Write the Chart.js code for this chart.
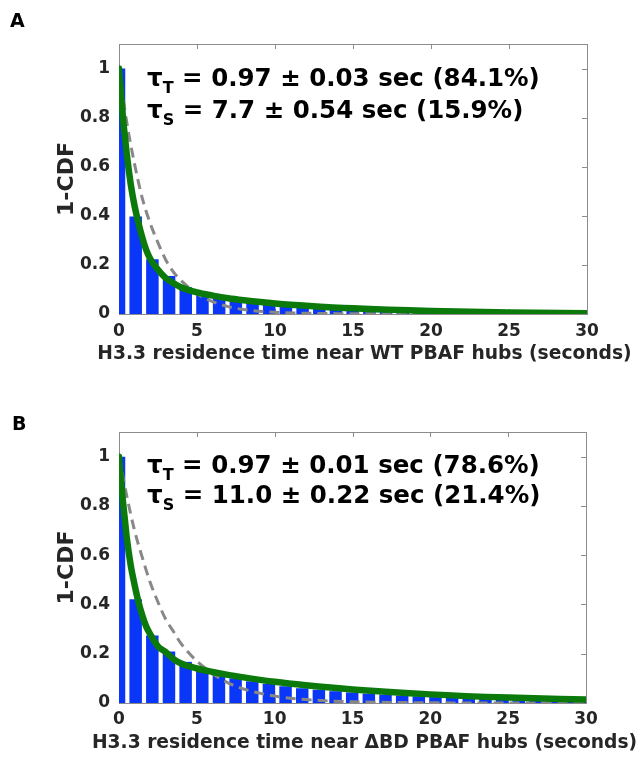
<!DOCTYPE html>
<html>
<head>
<meta charset="utf-8">
<script src="https://cdn.jsdelivr.net/npm/chart.js@4.4.1/dist/chart.umd.min.js"></script>
<style>
  html, body { margin: 0; padding: 0; background: #fff; }
  #wrap { position: relative; width: 639px; height: 760px; overflow: hidden; }
  .panel { position: absolute; left: 0; width: 639px; height: 380px; }
  .tag { position: absolute; font: bold 19px/19px "DejaVu Sans"; color: #000; }
  .note { position: absolute; left: 147px; font: bold 24.5px/24.5px "DejaVu Sans"; color: #000; white-space: nowrap; }
  .note span { font-size: 16px; position: relative; top: 7px; }
  .xtitle { position: absolute; left: 0; width: 729px; text-align: center; font: bold 18.7px/18.7px "DejaVu Sans"; color: #262626; white-space: nowrap; }
</style>
</head>
<body>
<div id="wrap">
  <div class="panel" style="top:0"><canvas id="chartA" width="639" height="380"></canvas></div>
  <div class="panel" style="top:380px"><canvas id="chartB" width="639" height="380"></canvas></div>

  <div class="tag" style="left:10px;top:11px">A</div>
  <div class="note" style="top:66px">τ<span>T</span> = 0.97 ± 0.03 sec (84.1%)</div>
  <div class="note" style="top:98px">τ<span>S</span> = 7.7 ± 0.54 sec (15.9%)</div>
  <div class="xtitle" style="top:344px">H3.3 residence time near WT PBAF hubs (seconds)</div>

  <div class="tag" style="left:12px;top:414px">B</div>
  <div class="note" style="top:453px">τ<span>T</span> = 0.97 ± 0.01 sec (78.6%)</div>
  <div class="note" style="top:483px">τ<span>S</span> = 11.0 ± 0.22 sec (21.4%)</div>
  <div class="xtitle" style="top:733px">H3.3 residence time near ΔBD PBAF hubs (seconds)</div>
</div>

<script>
// histogram bins (seconds) and 1-CDF heights
const binTimes = [0, 1.07, 2.14, 3.21, 4.28, 5.35, 6.42, 7.49, 8.56, 9.63, 10.70, 11.77, 12.84, 13.91, 14.98,
  16.05, 17.12, 18.19, 19.26, 20.33, 21.40, 22.47, 23.54, 24.61, 25.68, 26.75, 27.82, 28.89, 29.96];
const barsA = [1.0, 0.397, 0.223, 0.155, 0.109, 0.080, 0.066, 0.056, 0.048, 0.041, 0.036, 0.031, 0.027, 0.023, 0.020,
  0.017, 0.014, 0.012, 0.010, 0.009, 0.008, 0.007, 0.006, 0.005, 0.004, 0.004, 0.003, 0.003, 0.002];
const barsB = [1.0, 0.421, 0.274, 0.209, 0.167, 0.134, 0.114, 0.100, 0.088, 0.078, 0.068, 0.060, 0.054, 0.048, 0.043,
  0.038, 0.034, 0.030, 0.027, 0.024, 0.021, 0.019, 0.017, 0.015, 0.013, 0.012, 0.011, 0.010, 0.009];

// two-component fit (green)
const fitTimes = [0, 0.1, 0.25, 0.4, 0.5, 0.75, 1, 1.25, 1.5, 1.75, 2, 2.5, 3, 3.5, 4, 5, 6, 7, 8, 10, 12, 15, 20, 25, 30];
const fitA = [1.00, 0.92, 0.80, 0.71, 0.65, 0.53, 0.44, 0.37, 0.31, 0.26, 0.225, 0.18, 0.146, 0.125, 0.108,
  0.088, 0.075, 0.064, 0.056, 0.043, 0.034, 0.023, 0.012, 0.006, 0.003];
const fitB = [1.00, 0.92, 0.82, 0.73, 0.67, 0.56, 0.48, 0.41, 0.355, 0.31, 0.28, 0.23, 0.207, 0.178, 0.16,
  0.14, 0.126, 0.114, 0.104, 0.086, 0.072, 0.055, 0.035, 0.022, 0.014];

// one-component fit (grey dashed)
const expTimes = [0, 0.5, 1, 1.5, 2, 2.5, 3, 3.5, 4, 5, 6, 7, 8, 10, 12, 15, 20, 25, 30];
const expA = [1.00, 0.78, 0.61, 0.47, 0.37, 0.29, 0.22, 0.17, 0.135, 0.082, 0.05, 0.03, 0.018, 0.007, 0.003, 0.001, 0, 0, 0];
const expB = [1.00, 0.84, 0.70, 0.59, 0.49, 0.41, 0.34, 0.29, 0.24, 0.17, 0.12, 0.082, 0.057, 0.028, 0.014, 0.005, 0.001, 0, 0];

const xTicks = [0, 5, 10, 15, 20, 25, 30];
const xTickLabels = ['0', '5', '10', '15', '20', '25', '30'];
const yTicks = [0, 0.2, 0.4, 0.6, 0.8, 1];
const yTickLabels = ['0', '0.2', '0.4', '0.6', '0.8', '1'];

Chart.defaults.font.family = '"DejaVu Sans"';
Chart.defaults.font.weight = 'bold';
Chart.defaults.color = '#262626';

const pts = (xs, ys) => xs.map((x, i) => ({x: x, y: ys[i]}));

// box + inward ticks like matlab
const frame = {
  id: 'frame',
  beforeDatasetsDraw(chart) {
    const {ctx, chartArea: a, scales: {x, y}} = chart;
    ctx.save();
    ctx.strokeStyle = '#8c8c8c';
    ctx.lineWidth = 1;
    ctx.beginPath();
    xTicks.forEach(v => {
      const px = Math.round(x.getPixelForValue(v)) + 0.5;
      ctx.moveTo(px, a.top); ctx.lineTo(px, a.top + 5);
      ctx.moveTo(px, a.bottom); ctx.lineTo(px, a.bottom - 5);
    });
    yTicks.forEach(v => {
      const py = Math.round(y.getPixelForValue(v)) + 0.5;
      ctx.moveTo(a.left, py); ctx.lineTo(a.left + 5, py);
      ctx.moveTo(a.right, py); ctx.lineTo(a.right - 5, py);
    });
    ctx.stroke();
    ctx.strokeRect(Math.round(a.left) + 0.5, Math.round(a.top) + 0.5, Math.round(a.width), Math.round(a.height));
    ctx.restore();
  }
};

function makeChart(id, bars, fit, exp, p) {
  return new Chart(document.getElementById(id), {
    type: 'bar',
    data: {
      datasets: [
        {
          type: 'line', data: pts(fitTimes, fit), order: 0,
          borderColor: '#0b7a0b', borderWidth: 6.5, borderCapStyle: 'round',
          pointRadius: 0, cubicInterpolationMode: 'monotone', fill: false
        },
        {
          type: 'line', data: pts(expTimes, exp), order: 1,
          borderColor: '#888888', borderWidth: 3, borderDash: [10, 6],
          pointRadius: 0, cubicInterpolationMode: 'monotone', fill: false
        },
        {
          type: 'bar', data: pts(binTimes, bars), order: 2,
          backgroundColor: '#0a36f8', borderWidth: 0,
          barPercentage: 0.75, categoryPercentage: 1, clip: 0
        }
      ]
    },
    options: {
      responsive: false,
      animation: false,
      events: [],
      layout: {padding: {left: 0, top: p.top, right: p.right, bottom: 0}},
      plugins: {legend: {display: false}, tooltip: {enabled: false}},
      scales: {
        x: {
          type: 'linear', min: 0, max: 30, offset: false,
          grid: {display: false, drawTicks: false},
          border: {display: false},
          afterBuildTicks: s => { s.ticks = xTicks.map(v => ({value: v})); },
          afterFit: s => { s.height = p.xh; },
          ticks: {padding: p.xpad, font: {size: 17}, callback: (v, i) => xTickLabels[i]}
        },
        y: {
          min: 0, max: 1.1,
          grid: {display: false, drawTicks: false},
          border: {display: false},
          afterBuildTicks: s => { s.ticks = yTicks.map(v => ({value: v})); },
          afterFit: s => { s.width = 119; },
          ticks: {padding: 9, font: {size: 17}, callback: (v, i) => yTickLabels[i]},
          title: {display: true, text: '1-CDF', font: {size: 22}, padding: {top: 54, bottom: 0}}
        }
      }
    },
    plugins: [frame]
  });
}

makeChart('chartA', barsA, fitA, expA, {top: 44, right: 52, xh: 66, xpad: 7});
makeChart('chartB', barsB, fitB, expB, {top: 52, right: 53, xh: 57, xpad: 6});
</script>
</body>
</html>
